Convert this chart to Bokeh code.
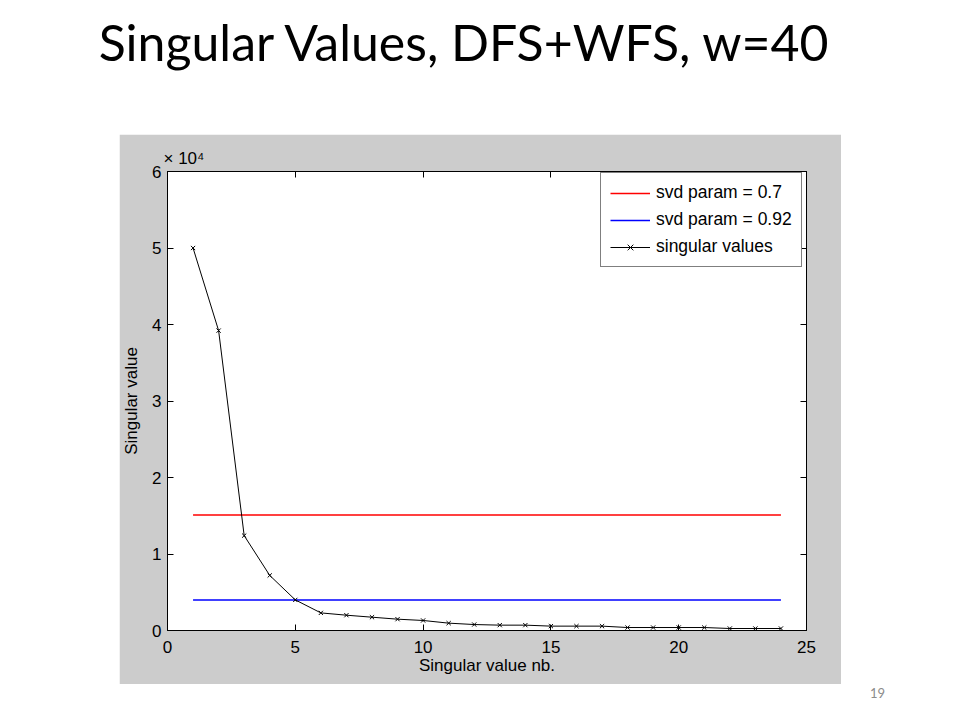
from bokeh.plotting import figure
from bokeh.models import LinearAxis, FixedTicker, Legend, LegendItem, Spacer
from bokeh.layouts import column, row
from bokeh.embed import file_html
from bokeh.resources import INLINE
from bokeh.core.properties import value

# ---------------- data ----------------
title_text = "Singular Values, DFS+WFS, w=40"
x_label = "Singular value nb."
y_label = "Singular value"
y_scale_text = "× 10⁴"
page_number = "19"
sv_index = list(range(1, 25))
singular_values = [50000, 39200, 12400, 7200, 4000, 2300, 2000, 1740, 1480, 1310,
                   960, 780, 700, 700, 570, 570, 570, 390, 390, 390, 390, 260, 260, 260]
param_names = ["svd param = 0.7", "svd param = 0.92"]
param_levels = [15100, 4000]
param_colors = ["red", "blue"]
param_x_start = 1
param_x_end = 24
sv_name = "singular values"
x_ticks = [0, 5, 10, 15, 20, 25]
y_ticks = [0, 10000, 20000, 30000, 40000, 50000, 60000]
y_tick_labels = ["0", "1", "2", "3", "4", "5", "6"]

FONT = "Liberation Sans"
GRAY = "#cccccc"

# ---------------- title strip ----------------
tf = figure(width=952, height=134, x_range=(0, 952), y_range=(0, 134),
            x_axis_type=None, y_axis_type=None, output_backend="svg",
            toolbar_location=None, min_border=0, outline_line_color=None,
            border_fill_color="white", background_fill_color="white")
tf.grid.visible = False
tf.text(x=[465], y=[93], text=[title_text], text_font=value("Lato"),
        text_font_size="50px", text_align="center", text_baseline="middle",
        text_color="black")

# ---------------- main chart ----------------
p = figure(width=722, height=550, x_range=(0, 25), y_range=(0, 60000),
           title=y_scale_text, output_backend="svg", toolbar_location=None,
           min_border_left=43, min_border_right=35, min_border_top=37,
           min_border_bottom=54, border_fill_color=GRAY,
           background_fill_color="white", outline_line_color="black")
p.grid.visible = False
p.title.align = "left"
p.title.offset = -4
p.title.standoff = 7
p.title.text_font = FONT
p.title.text_font_size = "17px"
p.title.text_font_style = "normal"
p.title.text_color = "black"

def style_axis(ax, ticks, show_labels):
    ax.ticker = FixedTicker(ticks=ticks)
    ax.major_tick_in = 6
    ax.major_tick_out = 0
    ax.minor_tick_line_color = None
    ax.axis_line_color = "black"
    ax.major_tick_line_color = "black"
    ax.major_label_text_font = FONT
    ax.axis_label_text_font = FONT
    ax.axis_label_text_font_style = "normal"
    ax.axis_label_text_color = "black"
    ax.axis_label_text_font_size = "17px"
    if show_labels:
        ax.major_label_text_font_size = "17px"
        ax.major_label_text_color = "black"
    else:
        ax.major_label_text_font_size = "1px"
        ax.major_label_text_color = None
        ax.major_label_standoff = 0

xa = p.xaxis[0]
style_axis(xa, x_ticks, True)
xa.axis_label = x_label
xa.major_label_standoff = 10
xa.axis_label_standoff = 0

ya = p.yaxis[0]
style_axis(ya, y_ticks, True)
ya.axis_label = y_label
ya.major_label_overrides = {t: l for t, l in zip(y_ticks, y_tick_labels)}
ya.major_label_standoff = 6
ya.axis_label_standoff = 8

top_ax = LinearAxis()
style_axis(top_ax, x_ticks, False)
p.add_layout(top_ax, "above")
right_ax = LinearAxis()
style_axis(right_ax, y_ticks, False)
p.add_layout(right_ax, "right")

# threshold lines (created blue first, listed red first in the legend)
param_renderers = {}
for name, lvl, col in reversed(list(zip(param_names, param_levels, param_colors))):
    param_renderers[name] = p.segment(x0=[param_x_start], x1=[param_x_end],
                                      y0=[lvl], y1=[lvl], line_color=col,
                                      line_width=1.5)
items = [LegendItem(label=name, renderers=[param_renderers[name]]) for name in param_names]

r_line = p.line(x=sv_index, y=singular_values, line_color="black", line_width=1)
r_pts = p.scatter(x=sv_index, y=singular_values, marker="x", size=6,
                  line_color="black", line_width=1)
items.append(LegendItem(label=sv_name, renderers=[r_line, r_pts]))

legend = Legend(items=items, location=(433, 363), margin=0, padding=9,
                spacing=6, glyph_width=40, glyph_height=20, label_height=20,
                label_standoff=6, label_text_font=FONT, label_text_font_size="17.5px",
                label_text_color="black", border_line_color="black",
                border_line_width=1, background_fill_color="white",
                background_fill_alpha=1)
p.add_layout(legend)

# ---------------- page number strip ----------------
bf = figure(width=952, height=30, x_range=(0, 952), y_range=(0, 30),
            x_axis_type=None, y_axis_type=None, output_backend="svg",
            toolbar_location=None, min_border=0, outline_line_color=None,
            border_fill_color="white", background_fill_color="white")
bf.grid.visible = False
bf.text(x=[877], y=[22], text=[page_number], text_font=value("Lato"),
        text_font_size="13px", text_align="center", text_baseline="middle",
        text_color="#8c8c8c")

layout = column(tf, row(Spacer(width=119, height=550), p), bf)

open("out.html", "w").write(file_html(layout, INLINE))
